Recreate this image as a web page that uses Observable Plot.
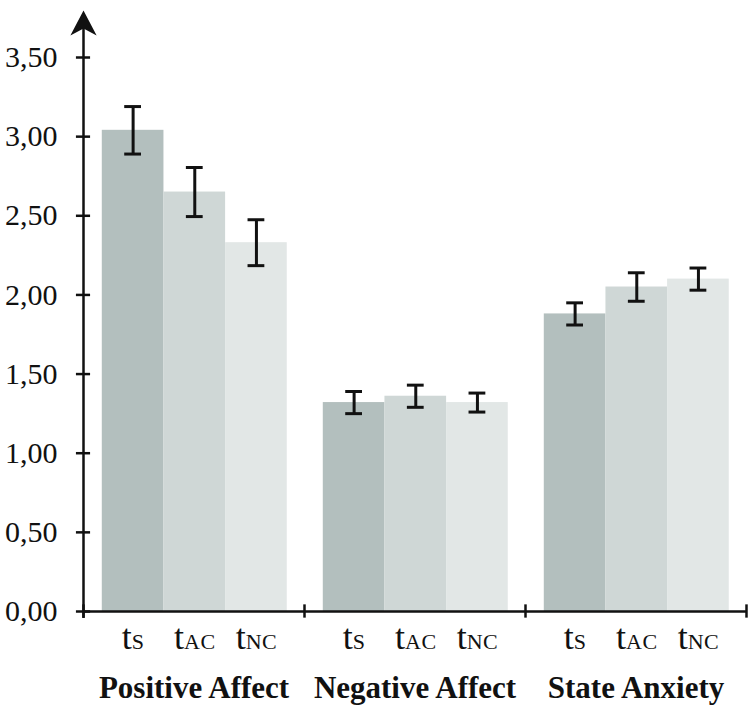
<!DOCTYPE html>
<html><head><meta charset="utf-8">
<script src="https://cdn.jsdelivr.net/npm/d3@7"></script>
<script src="https://cdn.jsdelivr.net/npm/@observablehq/plot@0.6"></script>
<style>body{margin:0;background:#fff} svg{display:block}</style>
</head><body><div id="chart"></div>
<script>
const groups = ["Positive Affect", "Negative Affect", "State Anxiety"];
const conditions = ["S", "AC", "NC"];
const meanPositive = [3.04, 2.65, 2.33];
const sePositive = [0.15, 0.155, 0.145];
const meanNegative = [1.32, 1.36, 1.32];
const seNegative = [0.07, 0.07, 0.06];
const meanAnxiety = [1.88, 2.05, 2.10];
const seAnxiety = [0.07, 0.09, 0.07];
const yTicks = [0, 0.5, 1, 1.5, 2, 2.5, 3, 3.5];
const colors = ["#b3bfbe", "#cfd7d6", "#e2e7e6"];

const means = [meanPositive, meanNegative, meanAnxiety];
const ses = [sePositive, seNegative, seAnxiety];
const pad = 0.085, bw = 0.279, cap = 0.038;
const rows = [];
groups.forEach((g, gi) => conditions.forEach((c, ci) => rows.push({
  group: g, cond: c, mean: means[gi][ci], se: ses[gi][ci],
  x1: gi + pad + ci * bw, x2: gi + pad + (ci + 1) * bw, xc: gi + pad + (ci + 0.5) * bw
})));
const font = "Liberation Serif";
const stealth = {draw(ctx, size) {
  const r = Math.sqrt(size / Math.PI);
  ctx.moveTo(0, -r); ctx.lineTo(1.05 * r, r); ctx.lineTo(0, 0.45 * r); ctx.lineTo(-1.05 * r, r); ctx.closePath();
}};
const fmt = d => d.toFixed(2).replace(".", ",");

const plot = Plot.plot({
  width: 752, height: 711,
  marginLeft: 83, marginRight: 6, marginTop: 57, marginBottom: 100,
  style: {background: "#fff", overflow: "visible"},
  x: {domain: [0, 3], axis: null},
  y: {domain: [0, 3.5]},
  color: {domain: conditions, range: colors},
  marks: [
    Plot.rectY(rows, {x1: "x1", x2: "x2", y1: 0, y2: "mean", fill: "cond"}),
    Plot.ruleX(rows, {x: "xc", y1: d => d.mean - d.se, y2: d => d.mean + d.se, stroke: "#111", strokeWidth: 3}),
    Plot.ruleY(rows, {y: d => d.mean - d.se, x1: d => d.xc - cap, x2: d => d.xc + cap, stroke: "#111", strokeWidth: 3}),
    Plot.ruleY(rows, {y: d => d.mean + d.se, x1: d => d.xc - cap, x2: d => d.xc + cap, stroke: "#111", strokeWidth: 3}),
    Plot.ruleY([0], {x1: 0, x2: 3, stroke: "#111", strokeWidth: 2.5}),
    Plot.ruleX([0, 1, 2, 3], {y1: -0.042, y2: 0.042, stroke: "#111", strokeWidth: 2.5}),
    Plot.ruleY(yTicks, {x1: -0.032, x2: 0.032, stroke: "#111", strokeWidth: 2.5}),
    Plot.ruleX([0], {y1: -0.044, y2: 3.683, stroke: "#111", strokeWidth: 2.5}),
    Plot.dot([{x: 0, y: 3.718}], {x: "x", y: "y", symbol: stealth, r: 12.5, fill: "#111", stroke: null}),
    Plot.axisY({ticks: yTicks, tickFormat: fmt, tickSize: 0, tickPadding: 26, fontSize: 30, fill: "#111", fontFamily: font}),
    Plot.text(rows, {x: "xc", y: 0, text: d => "t|" + d.cond, dy: 25.5, fontSize: 36, fill: "#111", fontFamily: font}),
    Plot.text(groups, {x: (d, i) => i + 0.5, y: 0, text: d => d, dy: 77, fontSize: 31, fontWeight: "bold", fill: "#111", fontFamily: font})
  ]
});
document.getElementById("chart").appendChild(plot);
d3.select(plot).selectAll("text").each(function () {
  const s = this.textContent;
  if (!s.includes("|")) return;
  const [a, b] = s.split("|");
  const t = d3.select(this);
  t.text(null);
  t.append("tspan").text(a);
  t.append("tspan").attr("font-size", 22).attr("letter-spacing", 0.5).text(b);
});
</script>
</body></html>
